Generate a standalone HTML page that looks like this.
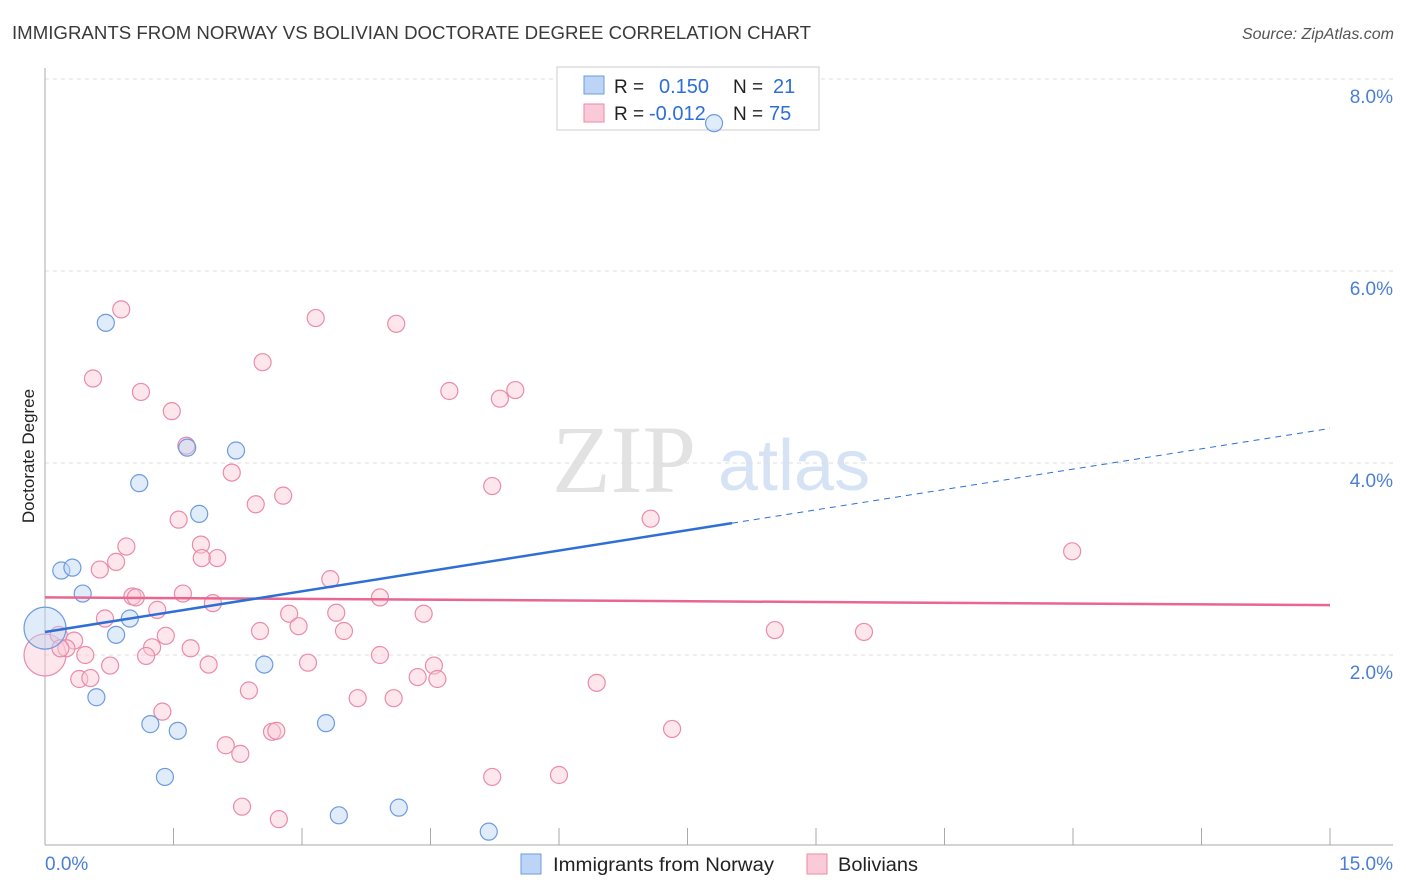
<!DOCTYPE html>
<html><head><meta charset="utf-8">
<style>
body{margin:0;background:#fff;font-family:"Liberation Sans",sans-serif;}
svg{display:block}
</style></head>
<body>
<svg id="chart" width="1406" height="892" xmlns="http://www.w3.org/2000/svg">
<text x="12" y="39" font-size="18.5" fill="#3a3a3a" textLength="799" lengthAdjust="spacingAndGlyphs" font-family="Liberation Sans">IMMIGRANTS FROM NORWAY VS BOLIVIAN DOCTORATE DEGREE CORRELATION CHART</text>
<text x="1394" y="39" font-size="16" fill="#555" font-style="italic" text-anchor="end">Source: ZipAtlas.com</text>
<g>
<text x="552" y="492" font-size="96" fill="#e2e2e2" font-family="Liberation Serif">ZIP</text>
<text x="718" y="490" font-size="72" fill="#d5e3f5" font-family="Liberation Sans">atlas</text>
</g>
<g id="grid"></g>
<g id="axes"></g>
<g>
<rect x="557" y="67" width="262" height="63" fill="#fff" stroke="#ccc"/>
<rect x="584" y="76" width="20" height="18" fill="#bcd4f5" stroke="#6d9be0"/>
<rect x="584" y="104" width="20" height="18" fill="#fbcad8" stroke="#eb8aaa"/>
<text x="614" y="93" font-size="19" fill="#222">R = </text><text x="659" y="93" font-size="20" fill="#2d6fd6">0.150</text>
<text x="733" y="93" font-size="19" fill="#222">N = </text><text x="773" y="93" font-size="20" fill="#2d6fd6">21</text>
<text x="614" y="120" font-size="19" fill="#222">R = </text><text x="649" y="120" font-size="20" fill="#2d6fd6">-0.012</text>
<text x="733" y="120" font-size="19" fill="#222">N = </text><text x="769" y="120" font-size="20" fill="#2d6fd6">75</text>
</g>
<g id="marks"></g>
<g id="trends"></g>
<text transform="translate(34,456) rotate(-90)" font-size="17" fill="#222" text-anchor="middle">Doctorate Degree</text>
<g>
<rect x="521" y="854" width="20" height="20" fill="#bcd4f5" stroke="#6d9be0"/>
<text x="553" y="871" font-size="19" fill="#222" textLength="221" lengthAdjust="spacingAndGlyphs">Immigrants from Norway</text>
<rect x="807" y="854" width="20" height="20" fill="#fbcad8" stroke="#eb8aaa"/>
<text x="838" y="871" font-size="19" fill="#222" textLength="80" lengthAdjust="spacingAndGlyphs">Bolivians</text>
</g>
</svg>
<script>
const yTicks=[2,4,6,8];
const xTickLabels=["0.0%","15.0%"];
const norwayX=[0.71,0.19,0.32,0.44,0.83,0.99,1.10,1.66,2.23,1.80,0.60,1.23,1.55,1.40,2.56,3.28,3.43,4.13,5.18,7.81];
const norwayY=[5.46,2.88,2.91,2.64,2.21,2.38,3.79,4.16,4.13,3.47,1.56,1.28,1.21,0.73,1.90,1.29,0.33,0.41,0.16,7.54];
const bolX=[0.89,0.56,1.12,1.48,1.65,2.18,2.46,2.78,2.54,3.16,4.10,4.72,5.31,5.49,5.22,7.07,11.99,1.56,0.95,1.82,2.01,1.83,0.83,0.64,1.02,1.06,1.61,1.31,1.96,0.70,1.41,1.25,1.18,1.70,0.16,0.34,0.25,0.18,0.47,0.76,0.40,0.53,1.91,1.37,2.38,2.11,2.28,2.30,2.65,2.70,2.73,2.51,2.85,2.96,3.07,3.33,3.40,3.49,3.65,3.91,3.91,4.07,4.35,4.42,4.54,4.58,5.22,6.00,6.44,7.32,8.52,9.56];
const bolY=[5.60,4.88,4.74,4.54,4.18,3.90,3.57,3.66,5.05,5.51,5.45,4.75,4.67,4.76,3.76,3.42,3.08,3.41,3.13,3.15,3.01,3.01,2.97,2.89,2.61,2.60,2.64,2.47,2.54,2.38,2.20,2.08,1.99,2.07,2.21,2.15,2.07,2.07,2.00,1.89,1.75,1.76,1.90,1.41,1.63,1.06,0.97,0.42,1.20,1.21,0.29,2.25,2.43,2.30,1.92,2.79,2.44,2.25,1.55,2.60,2.00,1.55,1.77,2.43,1.89,1.75,0.73,0.75,1.71,1.23,2.26,2.24];
const bigNorway=[0,2.28];
const bigBol=[0,2.00];
const norwayTrend=[2.24,4.36];
const norwaySolidEnd=8.02;
const bolTrend=[2.60,2.52];

const NS="http://www.w3.org/2000/svg";
const X0=45,X1=1330,Y0=847,PXPER=96;
function sx(v){return X0+v/15*(X1-X0);}
function sy(v){return Y0-v*PXPER;}
function mk(tag,attrs,parent){const e=document.createElementNS(NS,tag);for(const k in attrs)e.setAttribute(k,attrs[k]);parent.appendChild(e);return e;}
const grid=document.getElementById('grid'),axes=document.getElementById('axes'),marks=document.getElementById('marks'),trends=document.getElementById('trends');
yTicks.forEach(t=>{
  const l=mk('line',{x1:X0,x2:1393,y1:sy(t),y2:sy(t),stroke:'#ddd','stroke-dasharray':'4,4'},grid);
  
  
  const tx=mk('text',{x:1393,y:sy(t)+24,'font-size':19,fill:'#4a7fd4','text-anchor':'end'},grid);
  tx.textContent=t.toFixed(1)+'%';
  
  
});
const ya=mk('line',{x1:X0,x2:X0,y1:68,y2:845,stroke:'#aaa'},axes);


const xa=mk('line',{x1:X0,x2:1393,y1:845,y2:845,stroke:'#aaa'},axes);


for(let i=0;i<=10;i++){
  const v=i*1.5;
  const t=mk('line',{x1:sx(v),x2:sx(v),y1:828,y2:845,stroke:'#aaa'},axes);
  
  
}
const xl0=mk('text',{x:45,y:870,'font-size':19,fill:'#4a7fd4'},axes);
xl0.textContent=xTickLabels[0];


const xl1=mk('text',{x:1393,y:870,'font-size':19,fill:'#4a7fd4','text-anchor':'end'},axes);
xl1.textContent=xTickLabels[1];



function dot(x,y,r,fill,stroke,name){
  const c=mk('circle',{cx:sx(x),cy:sy(y),r:r,fill:fill,'fill-opacity':0.45,stroke:stroke,'stroke-width':1.2},marks);
  
  
}
dot(bigBol[0],bigBol[1],21,'#fbcad8','#eb8aaa','bolivians-point-large');
bolX.forEach((x,i)=>dot(x,bolY[i],8.5,'#fbcad8','#eb8aaa','bolivians-point'));
dot(bigNorway[0],bigNorway[1],21,'#bcd4f5','#6d9be0','norway-point-large');
norwayX.forEach((x,i)=>dot(x,norwayY[i],8.5,'#bcd4f5','#6d9be0','norway-point'));

function trendY(tr,x){return tr[0]+(tr[1]-tr[0])*x/15;}
const bt=mk('line',{x1:sx(0),y1:sy(bolTrend[0]),x2:sx(15),y2:sy(bolTrend[1]),stroke:'#e8668f','stroke-width':2.5},trends);


const nt=mk('line',{x1:sx(0),y1:sy(norwayTrend[0]),x2:sx(norwaySolidEnd),y2:sy(trendY(norwayTrend,norwaySolidEnd)),stroke:'#2d6fd6','stroke-width':2.5},trends);


const nd=mk('line',{x1:sx(norwaySolidEnd),y1:sy(trendY(norwayTrend,norwaySolidEnd)),x2:sx(15),y2:sy(norwayTrend[1]),stroke:'#2d6fd6','stroke-width':1,'stroke-dasharray':'6,5'},trends);


</script>
</body></html>
